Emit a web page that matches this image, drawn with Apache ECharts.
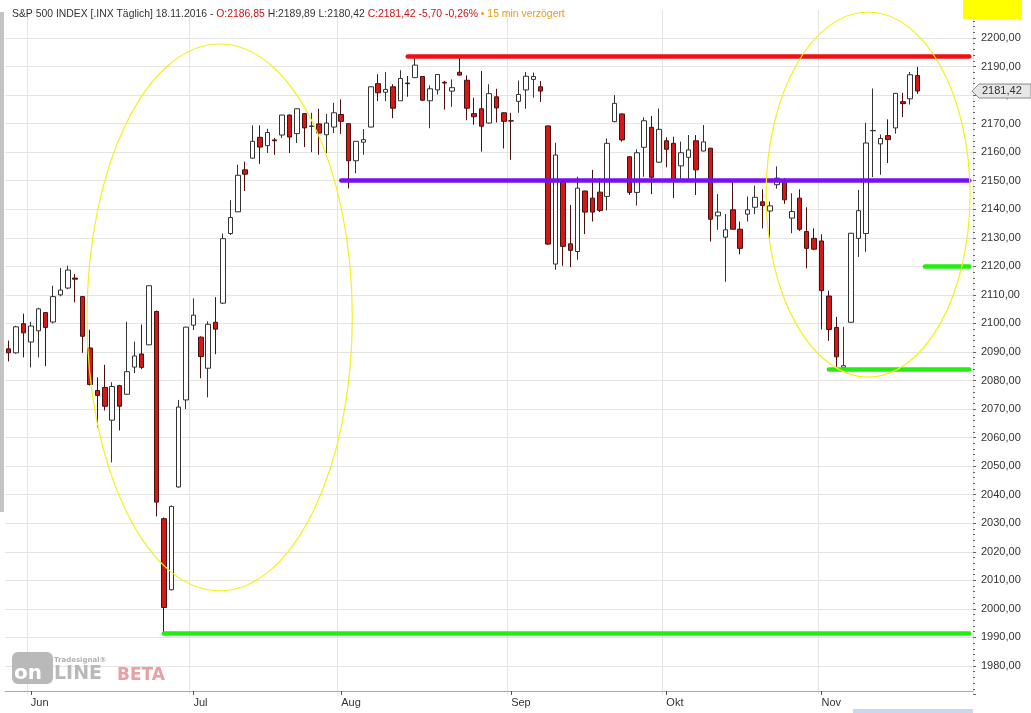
<!DOCTYPE html>
<html><head><meta charset="utf-8">
<script src="https://cdn.jsdelivr.net/npm/echarts@6/dist/echarts.min.js"></script>
<style>html,body{margin:0;padding:0;background:#fff;overflow:hidden}#c{width:1031px;height:713px}</style>
</head><body><div id="c"></div>
<script>
// ---- trading days (categories) ----
const mayDays = [26,27,31];
const junDays = [1,2,3,6,7,8,9,10,13,14,15,16,17,20,21,22,23,24,27,28,29,30];
const julDays = [1,5,6,7,8,11,12,13,14,15,18,19,20,21,22,25,26,27,28,29];
const augDays = [1,2,3,4,5,8,9,10,11,12,15,16,17,18,19,22,23,24,25,26,29,30,31];
const sepDays = [1,2,6,7,8,9,12,13,14,15,16,19,20,21,22,23,26,27,28,29,30];
const oktDays = [3,4,5,6,7,10,11,12,13,14,17,18,19,20,21,24,25,26,27,28,31];
const novDays = [1,2,3,4,7,8,9,10,11,14,15,16,17,18];
const padDays = [21,22,23,25,28,29,30]; // empty space right of last bar (Nov)
const monthNames = ['Jan','Feb','Mär','Apr','Mai','Jun','Jul','Aug','Sep','Okt','Nov','Dez'];

// ---- bars: [open, high, low, close] ----
const mayBars = [
 [2091.1,2094.0,2086.7,2089.7],[2089.7,2099.2,2089.4,2098.8],[2099.9,2103.4,2088.1,2096.7]];
const junBars = [
 [2093.5,2100.6,2084.6,2099.1],[2097.4,2105.5,2088.1,2105.1],[2103.8,2104.0,2085.0,2098.6],
 [2100.5,2113.2,2100.0,2109.4],[2110.0,2119.4,2109.5,2111.7],[2112.4,2120.2,2112.0,2118.7],
 [2115.9,2117.3,2107.4,2115.5],[2109.4,2109.6,2089.7,2095.5],[2091.4,2097.8,2078.3,2078.6],
 [2076.5,2081.1,2063.6,2074.8],[2077.6,2085.5,2069.5,2071.0],[2066.1,2079.4,2051.3,2077.9],
 [2078.2,2078.5,2062.5,2071.0],[2075.2,2100.6,2075.0,2083.1],[2084.7,2093.6,2082.6,2088.6],
 [2089.3,2099.6,2084.0,2084.6],[2092.5,2113.3,2092.4,2113.2],[2104.2,2104.5,2032.4,2037.4],
 [2031.6,2032.0,1991.7,2000.5],[2006.7,2036.2,2006.5,2035.9],[2042.7,2073.2,2042.5,2070.7],
 [2073.2,2098.8,2070.0,2098.7]];
const julBars = [
 [2099.4,2108.8,2097.7,2102.9],[2095.2,2095.5,2080.8,2088.4],[2084.3,2100.7,2074.1,2099.7],
 [2100.4,2109.2,2089.2,2098.0],[2107.1,2131.5,2106.8,2129.7],[2131.5,2143.2,2131.0,2137.1],
 [2139.1,2155.6,2139.0,2151.9],[2153.8,2156.7,2146.4,2152.3],[2157.9,2169.4,2157.7,2163.8],
 [2165.2,2169.4,2155.9,2161.8],[2162.3,2168.2,2159.7,2166.9],[2164.3,2165.0,2159.1,2164.0],
 [2166.0,2173.1,2165.0,2173.0],[2173.0,2173.2,2159.7,2165.3],[2166.5,2175.3,2163.2,2175.2],
 [2173.5,2173.6,2161.8,2168.5],[2169.0,2173.8,2160.0,2169.2],[2169.9,2175.2,2159.1,2166.7],
 [2166.1,2173.4,2159.7,2170.2],[2168.8,2177.3,2166.7,2173.8]];
const augBars = [
 [2173.2,2178.5,2166.4,2170.8],[2170.0,2170.1,2147.3,2157.0],[2157.0,2163.9,2152.6,2163.8],
 [2163.5,2168.1,2159.1,2164.4],[2168.8,2183.0,2168.7,2182.9],[2184.0,2187.3,2177.9,2180.8],
 [2181.0,2188.1,2177.9,2182.0],[2182.9,2183.8,2171.9,2175.4],[2178.0,2188.7,2178.0,2185.8],
 [2184.2,2186.7,2179.4,2184.0],[2186.1,2193.6,2186.0,2190.5],[2186.5,2186.6,2178.0,2178.2],
 [2178.0,2183.4,2168.4,2182.2],[2181.8,2187.3,2180.2,2187.2],[2184.5,2185.0,2174.9,2184.2],
 [2181.4,2185.5,2175.9,2182.6],[2188.0,2193.2,2186.8,2187.0],[2185.2,2186.9,2171.2,2175.4],
 [2173.5,2179.1,2169.6,2172.4],[2175.2,2188.4,2160.2,2169.1],[2170.2,2183.8,2170.0,2180.5],
 [2179.4,2182.2,2170.4,2175.5],[2173.8,2174.0,2161.3,2170.8]];
const sepBars = [
 [2171.0,2173.8,2157.3,2170.9],[2177.8,2185.1,2173.8,2180.2],[2181.8,2188.1,2175.2,2186.6],
 [2185.5,2187.9,2179.1,2186.5],[2182.9,2184.9,2177.6,2181.4],[2169.2,2169.3,2127.5,2127.8],
 [2120.8,2163.3,2118.8,2159.0],[2149.7,2150.0,2120.2,2127.0],[2127.9,2141.5,2119.7,2125.6],
 [2125.2,2151.4,2122.3,2147.4],[2146.4,2146.5,2131.3,2139.0],[2143.9,2153.8,2135.7,2139.0],
 [2146.0,2150.9,2139.0,2139.6],[2144.5,2164.8,2139.6,2163.1],[2170.7,2180.0,2170.5,2177.1],
 [2173.4,2173.5,2163.7,2164.3],[2158.4,2158.5,2145.0,2145.9],[2145.9,2161.0,2141.3,2159.8],
 [2161.7,2172.2,2151.4,2171.0],[2168.7,2172.7,2145.3,2151.2],[2156.5,2175.3,2156.3,2168.0]];
const oktBars = [
 [2164.0,2165.2,2154.7,2161.0],[2163.1,2165.4,2143.9,2150.5],[2155.2,2163.7,2150.5,2159.8],
 [2158.2,2166.0,2150.5,2160.8],[2164.0,2166.0,2145.0,2153.8],[2160.4,2169.5,2160.3,2163.6],
 [2161.4,2161.5,2128.7,2136.5],[2137.7,2145.3,2132.8,2139.0],[2130.2,2138.3,2114.6,2132.8],
 [2139.8,2149.7,2133.0,2133.0],[2133.0,2135.7,2124.2,2126.3],[2138.3,2144.5,2135.7,2139.8],
 [2140.7,2148.3,2138.3,2144.2],[2142.6,2147.0,2133.3,2141.3],[2139.4,2142.7,2129.8,2141.2],
 [2148.6,2155.0,2147.2,2150.9],[2150.0,2150.9,2141.9,2143.3],[2136.9,2145.6,2131.6,2139.2],
 [2143.9,2147.0,2132.4,2133.0],[2132.2,2140.7,2119.3,2126.3],[2129.8,2133.3,2125.7,2126.0]];
const novBars = [
 [2128.9,2131.2,2097.9,2111.5],[2109.6,2111.5,2093.9,2097.9],[2098.6,2102.3,2084.8,2088.3],
 [2084.6,2098.8,2083.8,2085.2],[2100.4,2131.7,2100.3,2131.6],[2129.8,2146.8,2123.3,2139.5],
 [2131.5,2170.3,2125.1,2163.2],[2167.5,2182.3,2151.3,2167.6],[2162.9,2166.2,2152.1,2164.8],
 [2165.8,2171.5,2156.2,2164.4],[2168.5,2180.7,2166.5,2180.6],[2177.7,2180.8,2172.3,2177.0],
 [2178.7,2188.1,2176.7,2187.12],[2186.85,2189.89,2180.42,2181.42]];

// ---- y-axis ticks ----
const yMin = 1970, yMax = 2209.9, yStep = 10, yLabelLow = 1980, yLabelHigh = 2200;

// ---- drawn support / resistance lines: [start category, level, colour] ----
const lineStarts = ['12.08.2016','01.08.2016','27.06.2016','02.11.2016','21.11.2016'];
const lineLevels = [2193.7, 2150.0, 1991.5, 2084.0, 2120.0];
const lineColors = ['#ee1111', '#7711ee', '#22ee11', '#22ee11', '#22ee11'];

// ---- yellow ellipses: category index span and price span ----
const ellipseFrom = [10.6, 102.5];
const ellipseTo   = [46.5, 130.1];
const ellipseLow  = [2006.3, 2081.2];
const ellipseHigh = [2197.9, 2209.1];

// ---- build ----
const pad2 = n => (n < 10 ? '0' : '') + n;
const mk = (days, m) => days.map(d => pad2(d) + '.' + pad2(m) + '.2016');
const categories = [].concat(mk(mayDays,5), mk(junDays,6), mk(julDays,7), mk(augDays,8),
  mk(sepDays,9), mk(oktDays,10), mk(novDays,11), mk(padDays,11));
const bars = [].concat(mayBars, junBars, julBars, augBars, sepBars, oktBars, novBars);
const candleData = bars.map(b => [b[0], b[3], b[2], b[1]]);
const monthOf = c => parseInt(c.slice(3,5), 10);
const isMonthStart = i => i > 0 && monthOf(categories[i]) !== monthOf(categories[i-1]);
const fmt = v => v.toFixed(2).replace('.', ',');
const last = bars[bars.length - 1], prev = bars[bars.length - 2];
const chg = last[3] - prev[3];

const markLines = lineStarts.map((s, k) => [
  { coord: [s, lineLevels[k]], lineStyle: { color: lineColors[k], width: 4.5, type: 'solid', cap: 'round' } },
  { coord: [categories[categories.length - 1], lineLevels[k]] }
]);

const chart = echarts.init(document.getElementById('c'), null, { renderer: 'canvas' });
const FONT = 'Liberation Sans';
const TFS = 10.4;
chart.setOption({
  animation: false,
  backgroundColor: '#ffffff',
  title: {
    left: 7, top: 4,
    text: '{a|S&P 500 INDEX [.INX Täglich] 18.11.2016 - }{r|O:' + fmt(last[0]) + '}{a| H:' + fmt(last[1]) +
      ' L:' + fmt(last[2]) + ' }{r|C:' + fmt(last[3]) + ' ' + fmt(chg) + ' ' + fmt(chg / prev[3] * 100) +
      '%}{o| • 15 min verzögert}',
    textStyle: {
      fontFamily: FONT, fontSize: TFS, fontWeight: 'normal',
      rich: {
        a: { color: '#333333', fontFamily: FONT, fontSize: TFS },
        r: { color: '#cc1111', fontFamily: FONT, fontSize: TFS },
        o: { color: '#e89a10', fontFamily: FONT, fontSize: TFS }
      }
    }
  },
  grid: { left: 5, right: 58, top: 9.74, bottom: 18.5, containLabel: false },
  xAxis: {
    type: 'category', data: categories, boundaryGap: true, offset: -3.5,
    axisLine: { show: true, lineStyle: { color: '#a8a8a8', width: 1 } },
    axisTick: { show: true, interval: i => isMonthStart(i), alignWithLabel: true, length: 4, lineStyle: { color: '#555' } },
    axisLabel: {
      show: true, interval: i => isMonthStart(i), align: 'left', margin: 6,
      formatter: v => monthNames[monthOf(v) - 1],
      color: '#333', fontFamily: FONT, fontSize: 11
    },
    splitLine: { show: true, interval: i => isMonthStart(i), lineStyle: { color: '#e4e4e4', width: 1 } }
  },
  yAxis: {
    type: 'value', position: 'right', min: yMin, max: yMax, interval: yStep, scale: true,
    axisLine: { show: false },
    axisTick: { show: true, length: 3, lineStyle: { color: '#666' } },
    minorTick: { show: true, splitNumber: 5, length: 2, lineStyle: { color: '#666' } },
    axisLabel: {
      margin: 8, color: '#333', fontFamily: FONT, fontSize: 11,
      formatter: v => (v >= yLabelLow && v <= yLabelHigh && Math.abs(v % 10) < 1e-6) ? fmt(v) : ''
    },
    splitLine: { show: true, showMinLine: false, showMaxLine: false, lineStyle: { color: '#e4e4e4', width: 1 } }
  },
  series: [{
    type: 'candlestick', name: 'S&P 500',
    data: candleData, barWidth: 5,
    itemStyle: { color: '#ffffff', color0: '#d41818', borderColor: '#333333', borderColor0: '#4a1010', borderWidth: 1 },
    markLine: { silent: true, symbol: ['none', 'none'], label: { show: false }, animation: false, data: markLines, z: 5 }
  }]
});

// ---- annotations placed through the chart's own scales ----
function px(i) {
  const x0 = chart.convertToPixel({ xAxisIndex: 0 }, categories[0]);
  const x1 = chart.convertToPixel({ xAxisIndex: 0 }, categories[1]);
  return x0 + i * (x1 - x0);
}
const py = v => chart.convertToPixel({ yAxisIndex: 0 }, v);
const graphics = [];
ellipseFrom.forEach((f, k) => {
  const xa = px(f), xb = px(ellipseTo[k]), ya = py(ellipseHigh[k]), yb = py(ellipseLow[k]);
  graphics.push({ type: 'ellipse', z: 50, silent: true,
    shape: { cx: (xa + xb) / 2, cy: (ya + yb) / 2, rx: (xb - xa) / 2, ry: (yb - ya) / 2 },
    style: { fill: null, stroke: '#f2f21a', lineWidth: 1.2 } });
});
// last price tag
const yl = py(last[3]);
graphics.push({ type: 'polygon', z: 60, shape: { points: [[972, yl], [979, yl - 7], [1031, yl - 7], [1031, yl + 7], [979, yl + 7]] },
  style: { fill: '#e6e6e6', stroke: '#8a8a8a', lineWidth: 1 } });
graphics.push({ type: 'text', z: 61, x: 982, y: yl, style: { text: fmt(last[3]), fill: '#333', font: '11px "' + FONT + '"', textVerticalAlign: 'middle' } });
// yellow marker top right
graphics.push({ type: 'rect', z: 60, shape: { x: 963, y: 0, width: 59, height: 19 }, style: { fill: '#ffff00' } });
// left gray strip
graphics.push({ type: 'rect', z: 60, shape: { x: 0, y: 12, width: 4, height: 500 }, style: { fill: '#c4c4c4' } });
// bottom-right blue strip
graphics.push({ type: 'rect', z: 60, shape: { x: 853, y: 709, width: 120, height: 4 }, style: { fill: '#c9d7f0' } });
// Tradesignal logo watermark
graphics.push({ type: 'rect', z: 40, shape: { x: 12, y: 652, width: 41, height: 32, r: 6 }, style: { fill: '#b9b9b9' } });
graphics.push({ type: 'text', z: 41, x: 14, y: 684, style: { text: 'on', fill: '#ffffff', font: 'bold 20px "DejaVu Sans"', textVerticalAlign: 'bottom' } });
graphics.push({ type: 'text', z: 41, x: 54, y: 684, style: { text: 'LINE', fill: '#b9b9b9', font: 'bold 19px "DejaVu Sans"', textVerticalAlign: 'bottom' } });
graphics.push({ type: 'text', z: 41, x: 117, y: 684, style: { text: 'BETA', fill: '#eaa0a0', font: 'bold 17px "DejaVu Sans"', textVerticalAlign: 'bottom' } });
graphics.push({ type: 'text', z: 41, x: 54, y: 660, style: { text: 'Tradesignal®', fill: '#b0b0b0', font: 'bold 7px "DejaVu Sans"', textVerticalAlign: 'middle' } });
chart.setOption({ graphic: graphics });
</script>
</body></html>
